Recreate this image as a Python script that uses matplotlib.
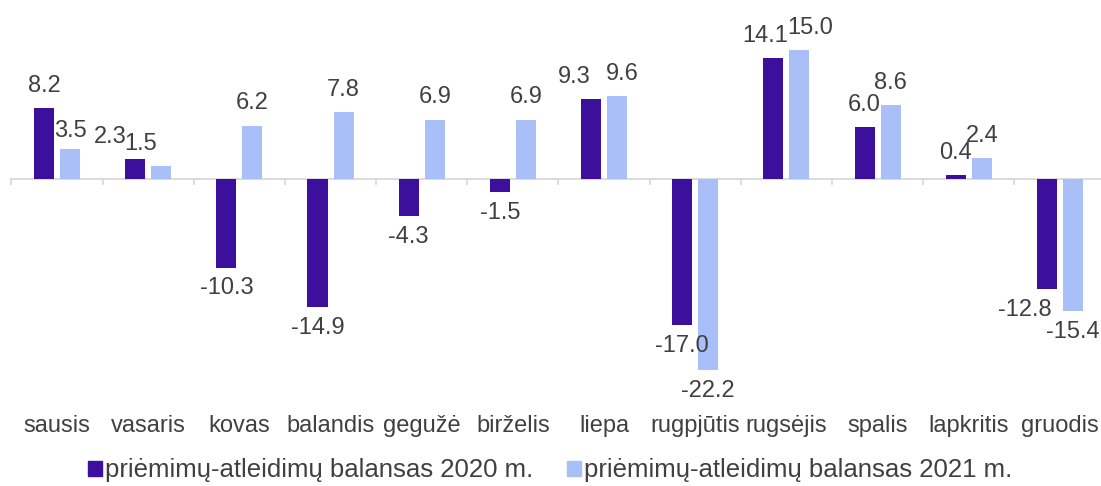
import matplotlib

matplotlib.use('Agg')

import numpy as np
import matplotlib.pyplot as plt
from matplotlib.patches import Patch

plt.rcParams['font.family'] = ['Liberation Sans', 'DejaVu Sans']

months = ['sausis', 'vasaris', 'kovas', 'balandis', 'gegužė', 'birželis',
          'liepa', 'rugpjūtis', 'rugsėjis', 'spalis', 'lapkritis', 'gruodis']
bal_2020 = [8.2, 2.3, -10.3, -14.9, -4.3, -1.5, 9.3, -17.0, 14.1, 6.0, 0.4, -12.8]
bal_2021 = [3.5, 1.5, 6.2, 7.8, 6.9, 6.9, 9.6, -22.2, 15.0, 8.6, 2.4, -15.4]
series_names = ['priėmimų-atleidimų balansas 2020 m.',
                'priėmimų-atleidimų balansas 2021 m.']

c_dark = '#3C109C'
c_light = '#A9BFF7'
txt = '#404040'

# hand-moved labels in the original (series, month) -> (dx, dy) in points
nudge = {(0, 1): (-18, 0), (1, 1): (-15, 0), (0, 6): (-12, 0), (1, 6): (4, 0),
         (0, 8): (-6, 0), (1, 8): (8, 0), (0, 11): (-16, 0), (1, 0): (0, -3)}

fig = plt.figure(figsize=(11.01, 4.86), dpi=100)
ax = fig.add_axes([0.0104, 0.177, 0.9937, 0.823])

x = np.arange(len(months))
w = 0.22
off = 0.143
b1 = ax.bar(x - off, bal_2020, w, color=c_dark)
b2 = ax.bar(x + off, bal_2021, w, color=c_light)

for si, (bars, vals) in enumerate(((b1, bal_2020), (b2, bal_2021))):
    for i, (r, v) in enumerate(zip(bars, vals)):
        cx = r.get_x() + r.get_width() / 2
        dx, dy = nudge.get((si, i), (0, 0))
        if v >= 0:
            ax.annotate(f'{v:.1f}', (cx, v), xytext=(dx, 8 + dy), textcoords='offset points',
                        ha='center', va='bottom', fontsize=17, color=txt)
        else:
            ax.annotate(f'{v:.1f}', (cx, v), xytext=(dx, -7 + dy), textcoords='offset points',
                        ha='center', va='top', fontsize=17, color=txt)

ax.set_xlim(-0.5, len(months) - 0.5)
ax.set_ylim(-25.7, 20.8)
ax.axhline(0, color='#d9d9d9', lw=1.3, zorder=0)
for b in np.arange(-0.5, len(months) + 0.5, 1):
    ax.plot([b, b], [0, -0.6], color='#d9d9d9', lw=1.3, zorder=0, clip_on=False)

for i, m in enumerate(months):
    ax.text(i, -0.037, m, transform=ax.get_xaxis_transform(),
            ha='center', va='top', fontsize=17, color=txt)

for s in ax.spines.values():
    s.set_visible(False)
ax.set_xticks([])
ax.set_yticks([])

handles = [Patch(color=c_dark), Patch(color=c_light)]
fig.legend(handles, series_names, loc='center', bbox_to_anchor=(0.4995, 0.032), ncol=2,
           frameon=False, fontsize=18.5, handlelength=0.55, handleheight=0.55,
           handletextpad=0.12, columnspacing=1.3, labelcolor=txt,
           borderpad=0, borderaxespad=0)

fig.savefig('out.png', dpi=100)
